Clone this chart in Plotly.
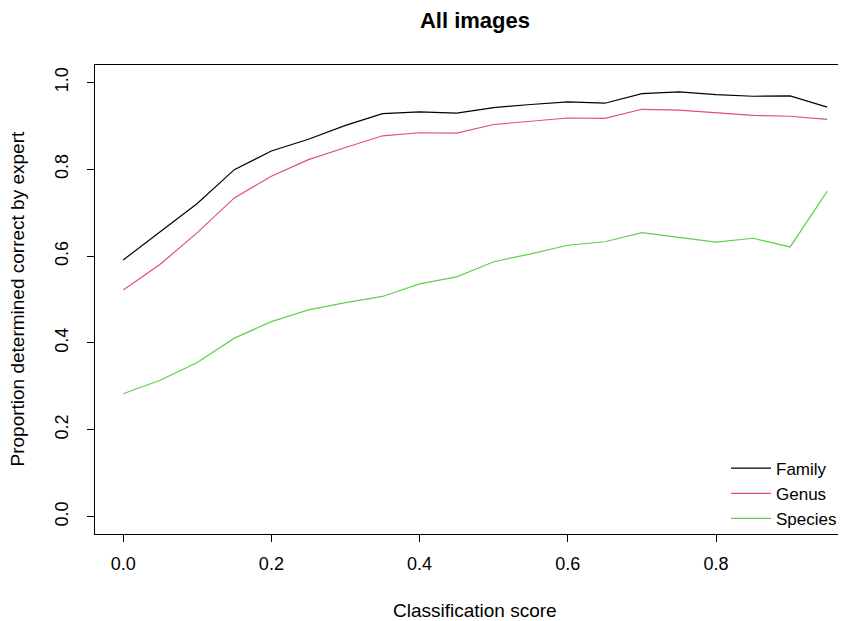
import plotly.graph_objects as go

scores = [0.00, 0.05, 0.10, 0.15, 0.20, 0.25, 0.30, 0.35, 0.40, 0.45,
          0.50, 0.55, 0.60, 0.65, 0.70, 0.75, 0.80, 0.85, 0.90, 0.95]
family = [0.591, 0.656, 0.721, 0.799, 0.842, 0.869, 0.901, 0.928, 0.932, 0.929,
          0.942, 0.949, 0.955, 0.952, 0.974, 0.978, 0.972, 0.968, 0.969, 0.943]
genus = [0.522, 0.581, 0.654, 0.734, 0.784, 0.822, 0.850, 0.877, 0.884, 0.883,
         0.903, 0.910, 0.918, 0.917, 0.938, 0.936, 0.930, 0.924, 0.922, 0.915]
species = [0.283, 0.314, 0.355, 0.411, 0.449, 0.476, 0.493, 0.507, 0.536, 0.552,
           0.587, 0.605, 0.625, 0.633, 0.654, 0.643, 0.632, 0.641, 0.621, 0.749]

x_ticks = [0.0, 0.2, 0.4, 0.6, 0.8]
x_tick_labels = ["0.0", "0.2", "0.4", "0.6", "0.8"]
y_ticks = [0.0, 0.2, 0.4, 0.6, 0.8, 1.0]
y_tick_labels = ["0.0", "0.2", "0.4", "0.6", "0.8", "1.0"]

series = [("Family", family, "#000000"),
          ("Genus", genus, "#DF536B"),
          ("Species", species, "#61D04F")]

# the page body adds an 8px offset; lay out in screen pixels minus that offset
OFF = 8
W, H = 846 - OFF, 621 - OFF
L, T = 95 - OFF, 65 - OFF
PB = 534.4 - OFF            # plot bottom in figure pixels
B = H - PB
PW, PH = W - L, PB - T

fig = go.Figure()
for name, vals, col in series:
    fig.add_trace(go.Scatter(x=scores, y=vals, mode="lines", name=name,
                             line=dict(color=col, width=1.2)))

font_family = "Liberation Sans, Arial, sans-serif"
fig.update_layout(
    width=W, height=H,
    paper_bgcolor="white", plot_bgcolor="white",
    margin=dict(l=L, r=0, t=T, b=B, autoexpand=False),
    font=dict(family=font_family, size=18, color="black"),
    title=dict(text="<b>All images</b>", x=(475 - OFF) / W, xanchor="center",
               y=1 - (20 - OFF) / H, yanchor="middle", font=dict(size=22)),
    showlegend=True,
    legend=dict(x=(726 - OFF - L) / PW, xanchor="left",
                y=(PB - (451 - OFF)) / PH, yanchor="top",
                bgcolor="rgba(0,0,0,0)", font=dict(size=17),
                tracegroupgap=0, itemwidth=40),
    xaxis=dict(range=[-0.038, (846 - 123) / 741.25], tickvals=x_ticks,
               ticktext=x_tick_labels, ticks="outside", ticklen=7,
               tickcolor="black", showline=True, linecolor="black",
               linewidth=1, mirror=True, showgrid=False, zeroline=False,
               automargin=False, ticklabelstandoff=6,
               tickfont=dict(size=18)),
    yaxis=dict(range=[-0.04, 1.04], tickvals=y_ticks, ticktext=y_tick_labels,
               ticks="outside", ticklen=7, tickcolor="black", tickangle=-90,
               showline=True, linecolor="black", linewidth=1, showgrid=False,
               zeroline=False, automargin=False, ticklabelstandoff=12,
               tickfont=dict(size=18)),
    annotations=[
        dict(text="Classification score", xref="paper", yref="paper",
             x=(475 - OFF - L) / PW, y=-((611 - OFF) - PB) / PH,
             xanchor="center", yanchor="middle", showarrow=False,
             font=dict(size=19)),
        dict(text="Proportion determined correct by expert", xref="paper",
             yref="paper", x=-(L - (17 - OFF)) / PW, y=0.5, textangle=-90,
             xanchor="center", yanchor="middle", showarrow=False,
             font=dict(size=19)),
    ],
)

fig.write_html("out.html")
